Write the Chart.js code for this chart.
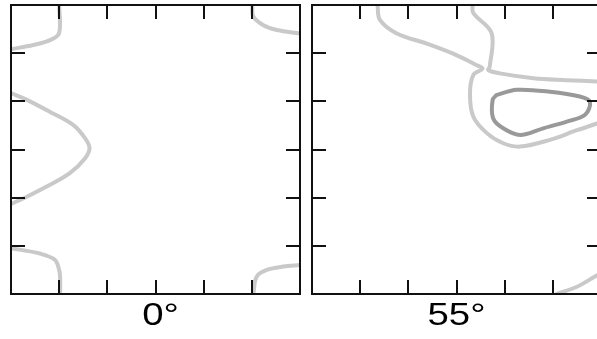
<!DOCTYPE html>
<html>
<head>
<meta charset="utf-8">
<script src="https://cdn.jsdelivr.net/npm/chart.js@4.4.0/dist/chart.umd.min.js"></script>
<style>
  html, body { margin: 0; padding: 0; background: #fff; }
  body { width: 597px; height: 339px; overflow: hidden; position: relative; }
  .wrap { position: absolute; top: 0; height: 339px; }
  .lbl { position: absolute; font-family: "Liberation Sans", Arial, sans-serif; font-size: 32px; line-height: 32px; color: #000; white-space: nowrap; transform: scaleX(1.2); transform-origin: center top; }
</style>
</head>
<body>
<div class="wrap" id="w1" style="left:0px;width:310px;"><canvas id="c1" width="310" height="339"></canvas></div>
<div class="wrap" id="w2" style="left:301px;width:310px;"><canvas id="c2" width="310" height="339"></canvas></div>
<div class="lbl" id="l1" style="left:0;width:321px;text-align:center;top:298px;">0°</div>
<div class="lbl" id="l2" style="left:312px;width:289px;text-align:center;top:298px;">55°</div>
<script>
// Panel labels
const panelLabels = ["0°", "55°"];
// Axis ticks (both axes 0..6, one tick per unit)
const tickValues = [0, 1, 2, 3, 4, 5, 6];

// Panel 0° contours (x, y in grid units)
const p0_topLeft   = [[1.0,6.0],[1.0,5.42],[0.81,5.27],[0.46,5.17],[0.0,5.08]];
const p0_leftBulge = [[0.0,4.17],[0.33,4.03],[0.81,3.78],[1.29,3.51],[1.54,3.23],[1.63,3.03],[1.54,2.82],[1.22,2.51],[0.74,2.23],[0.33,2.02],[0.0,1.87]];
const p0_botLeft   = [[0.0,0.95],[0.6,0.84],[0.91,0.71],[1.0,0.50],[1.02,0.33],[1.02,0.0]];
const p0_topRight  = [[5.01,6.0],[5.03,5.76],[5.24,5.58],[5.52,5.48],[6.0,5.41]];
const p0_botRight  = [[5.03,0.0],[5.1,0.36],[5.31,0.5],[5.65,0.57],[6.0,0.6]];

// Panel 55° contours
const p55_lineA  = [[1.36,6.0],[1.41,5.69],[1.76,5.41],[2.38,5.2],[2.93,4.99],[3.42,4.75],[3.54,4.68],[3.35,4.55],[3.28,4.16],[3.35,3.68],[3.63,3.34],[3.97,3.13],[4.32,3.06],[4.94,3.2],[5.5,3.4],[5.92,3.54],[6.0,3.57]];
const p55_lineB  = [[3.33,6.0],[3.35,5.83],[3.73,5.41],[3.69,4.72],[3.66,4.65],[3.9,4.58],[4.6,4.48],[5.29,4.44],[5.92,4.41],[6.0,4.40]];
const p55_inner  = [[3.83,4.13],[4.25,4.24],[4.94,4.2],[5.56,4.1],[5.77,3.99],[5.67,3.72],[5.29,3.58],[4.8,3.44],[4.32,3.3],[3.97,3.44],[3.76,3.65],[3.75,4.03],[3.83,4.13]];
const p55_botRight = [[5.08,0.0],[5.5,0.15],[5.92,0.39],[6.0,0.42]];

const LIGHT = "#c9c9c9";
const DARK = "#999999";

function toPts(arr) { return arr.map(p => ({x: p[0], y: p[1]})); }
function ds(arr, color) {
  return { data: toPts(arr), showLine: true, borderColor: color, borderWidth: 4,
           pointRadius: 0, tension: 0.35, fill: false, clip: 0, borderCapStyle: "round", borderJoinStyle: "round" };
}

const frame = {
  id: "frame",
  afterDatasetsDraw(chart) {
    const {ctx, chartArea: a, scales} = chart;
    const tl = 14;
    ctx.save();
    ctx.strokeStyle = "#111";
    ctx.lineWidth = 2;
    ctx.beginPath();
    tickValues.slice(1, -1).forEach(v => {
      const x = Math.round(scales.x.getPixelForValue(v));
      ctx.moveTo(x, a.top); ctx.lineTo(x, a.top + tl);
      ctx.moveTo(x, a.bottom); ctx.lineTo(x, a.bottom - tl);
      const y = Math.round(scales.y.getPixelForValue(v));
      ctx.moveTo(a.left, y); ctx.lineTo(a.left + tl, y);
      ctx.moveTo(a.right, y); ctx.lineTo(a.right - tl, y);
    });
    ctx.stroke();
    ctx.strokeRect(a.left, a.top, a.right - a.left, a.bottom - a.top);
    ctx.restore();
  }
};

function makeChart(id, datasets, pad) {
  return new Chart(document.getElementById(id), {
    type: "scatter",
    data: { datasets },
    options: {
      responsive: false, animation: false,
      layout: { padding: pad },
      plugins: { legend: { display: false }, tooltip: { enabled: false }, title: { display: false } },
      scales: {
        x: { type: "linear", min: 0, max: 6, display: false },
        y: { type: "linear", min: 0, max: 6, display: false }
      }
    },
    plugins: [frame]
  });
}

makeChart("c1", [ds(p0_topLeft, LIGHT), ds(p0_leftBulge, LIGHT), ds(p0_botLeft, LIGHT), ds(p0_topRight, LIGHT), ds(p0_botRight, LIGHT)],
  {left: 11, right: 10, top: 5, bottom: 45});
makeChart("c2", [ds(p55_lineA, LIGHT), ds(p55_lineB, LIGHT), ds(p55_inner, DARK), ds(p55_botRight, LIGHT)],
  {left: 11, right: 10, top: 5, bottom: 45});

document.getElementById("l1").textContent = panelLabels[0];
document.getElementById("l2").textContent = panelLabels[1];
</script>
</body>
</html>
